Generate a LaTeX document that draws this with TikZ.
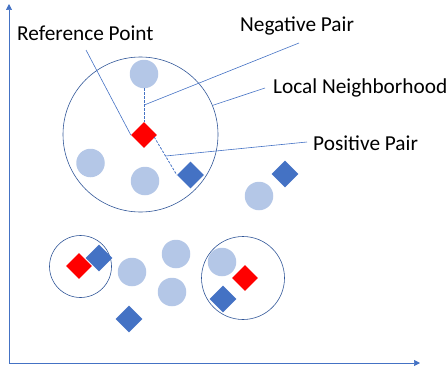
\documentclass[tikz,border=0pt]{standalone}
\usepackage{fontspec}
\setmainfont{Carlito}
\usetikzlibrary{shapes.geometric,arrows.meta}
\definecolor{ptblue}{HTML}{4472C4}
\definecolor{ptlight}{HTML}{B4C7E7}
\definecolor{ringc}{HTML}{2F5597}
\definecolor{ptred}{HTML}{FF0000}
\tikzset{
  neg/.style={circle,fill=ptlight,draw=none,minimum size=28.5pt,inner sep=0pt},
  posd/.style={diamond,fill=ptblue,draw=none,minimum width=27pt,minimum height=27pt,inner sep=0pt},
  refd/.style={diamond,fill=ptred,draw=none,minimum width=26pt,minimum height=26pt,inner sep=0pt},
  ring/.style={circle,draw=ringc,line width=0.6pt,inner sep=0pt},
  lbl/.style={font=\fontsize{21.3}{24}\selectfont,inner sep=0pt,anchor=west},
  leader/.style={draw=ptblue,line width=0.6pt},
  pair/.style={draw=ptblue,line width=0.8pt,dash pattern=on 2.5pt off 1.5pt},
  axis/.style={draw=ptblue,line width=0.7pt,-{Triangle[length=6pt,width=6pt]}}
}
\begin{document}
\begin{tikzpicture}[x=1pt,y=-1pt]
\useasboundingbox (0,0) rectangle (446,369);
% axes
\coordinate (org) at (9,363);
\coordinate (ytop) at (9,4);
\coordinate (xend) at (420,363);
\draw[axis] (org) -- (ytop);
\draw[axis] (org) -- (xend);
% big neighborhood
\node[ring,minimum size=155pt] (big) at (140.5,134.5) {};
\node[neg] (n1) at (144,74) {};
\node[neg] (n2) at (90.5,163) {};
\node[neg] (n3) at (145,181) {};
\node[posd] (p1) at (190.5,175) {};
\node[refd] (r1) at (144,135) {};
\draw[pair] (n1.south) -- (r1.north) coordinate[pos=0.5] (negmid);
\draw[pair] (r1.east) ++(-3,2) coordinate (pstart) -- (p1.west) coordinate[pos=0.5] (posmid);
% outside points
\node[posd] (p2) at (285,174) {};
\node[neg] (n4) at (259,196) {};
% small left neighborhood
\node[ring,minimum size=62pt] (sml) at (80.5,266.5) {};
\node[posd] (p3) at (99,258) {};
\node[refd] (r2) at (79,266) {};
% free points
\node[neg] (n5) at (132,272) {};
\node[neg] (n6) at (176,254) {};
\node[neg] (n7) at (172,292) {};
\node[posd] (p4) at (129,319) {};
% right neighborhood
\node[ring,minimum size=83pt] (smr) at (243,278) {};
\node[neg] (n8) at (222,262) {};
\node[refd] (r3) at (245,278) {};
\node[posd] (p5) at (223,299) {};
% labels
\node[lbl] (tref) at (17,33) {Reference Point};
\node[lbl] (tneg) at (240,26) {Negative Pair};
\node[lbl] (tloc) at (273,88) {Local Neighborhood};
\node[lbl] (tpos) at (313,143) {Positive Pair};
\coordinate (refa) at (86,50);
\coordinate (nega) at (299,43);
\coordinate (loca) at (265,88);
\coordinate (posa) at (307,142);
\draw[leader] (refa) -- (r1.west);
\draw[leader] (nega) -- (negmid);
\draw[leader] (loca) -- (big.22);
\draw[leader] (posa) -- (posmid);
\end{tikzpicture}
\end{document}
